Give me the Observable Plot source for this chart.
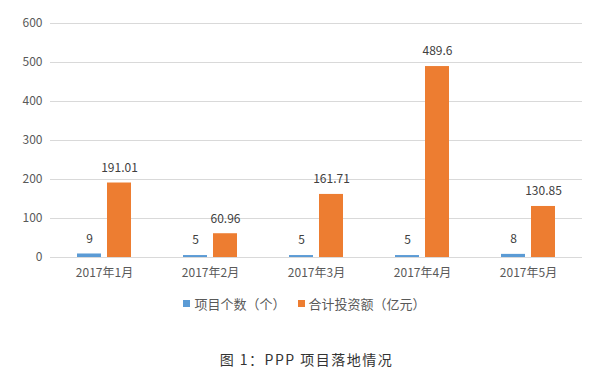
<!DOCTYPE html>
<html>
<head>
<meta charset="utf-8">
<script src="https://cdn.jsdelivr.net/npm/d3@7"></script>
<script src="https://cdn.jsdelivr.net/npm/@observablehq/plot@0.6"></script>
<style>
  body { margin: 0; background: #fff; width: 609px; height: 375px; overflow: hidden; font-family: "Noto Sans CJK SC", sans-serif; }
  #legend { display: flex; justify-content: center; align-items: center; margin-top: 5px; height: 16px; font-size: 13px; color: #595959; }
  .item { display: flex; align-items: center; margin: 0 6px; }
  .sw { width: 7px; height: 7px; margin-right: 4px; }
  #caption { text-align: center; margin-top: 38px; font-size: 14px; color: #333; letter-spacing: 1.5px; padding-left: 4px; }
</style>
</head>
<body>
<div id="chart"></div>
<div id="legend"></div>
<div id="caption">图 1：PPP 项目落地情况</div>
<script>
const months = ["2017年1月", "2017年2月", "2017年3月", "2017年4月", "2017年5月"];
const counts = [9, 5, 5, 5, 8];
const amounts = [191.01, 60.96, 161.71, 489.6, 130.85];
const amountLabels = ["191.01", "60.96", "161.71", "489.6", "130.85"];
const seriesNames = ["项目个数（个）", "合计投资额（亿元）"];
const seriesColors = ["#5b9bd5", "#ed7d31"];
const yTicks = [0, 100, 200, 300, 400, 500, 600];

const countData = months.map((m, i) => ({month: m, value: counts[i], label: String(counts[i])}));
const amountData = months.map((m, i) => ({month: m, value: amounts[i], label: amountLabels[i]}));

const chart = Plot.plot({
  width: 609,
  height: 290,
  marginTop: 23,
  marginBottom: 33,
  marginLeft: 50,
  marginRight: 27,
  style: {fontFamily: '"Noto Sans CJK SC", sans-serif', fontSize: "12px", color: "#595959", background: "#fff"},
  x: {domain: months, paddingInner: 0.49, paddingOuter: 0.245, tickSize: 0, tickPadding: 11, label: null},
  y: {domain: [0, 600], ticks: yTicks, tickSize: 0, tickPadding: 8, label: null},
  marks: [
    Plot.ruleY(yTicks, {stroke: "#d9d9d9", strokeWidth: 1}),
    Plot.barY(countData, {x: "month", y: "value", fill: seriesColors[0], insetRight: 30}),
    Plot.barY(amountData, {x: "month", y: "value", fill: seriesColors[1], insetLeft: 30}),
    Plot.text(countData, {x: "month", y: "value", text: "label", dx: -15, dy: -15, fill: "#404040", fontSize: 12}),
    Plot.text(amountData, {x: "month", y: "value", text: "label", dx: 15, dy: -15, fill: "#404040", fontSize: 12})
  ]
});
document.getElementById("chart").appendChild(chart);

const legend = document.getElementById("legend");
seriesNames.forEach((name, i) => {
  const item = document.createElement("div");
  item.className = "item";
  const sw = document.createElement("span");
  sw.className = "sw";
  sw.style.background = seriesColors[i];
  const t = document.createElement("span");
  t.textContent = name;
  item.appendChild(sw);
  item.appendChild(t);
  legend.appendChild(item);
});
</script>
</body>
</html>
